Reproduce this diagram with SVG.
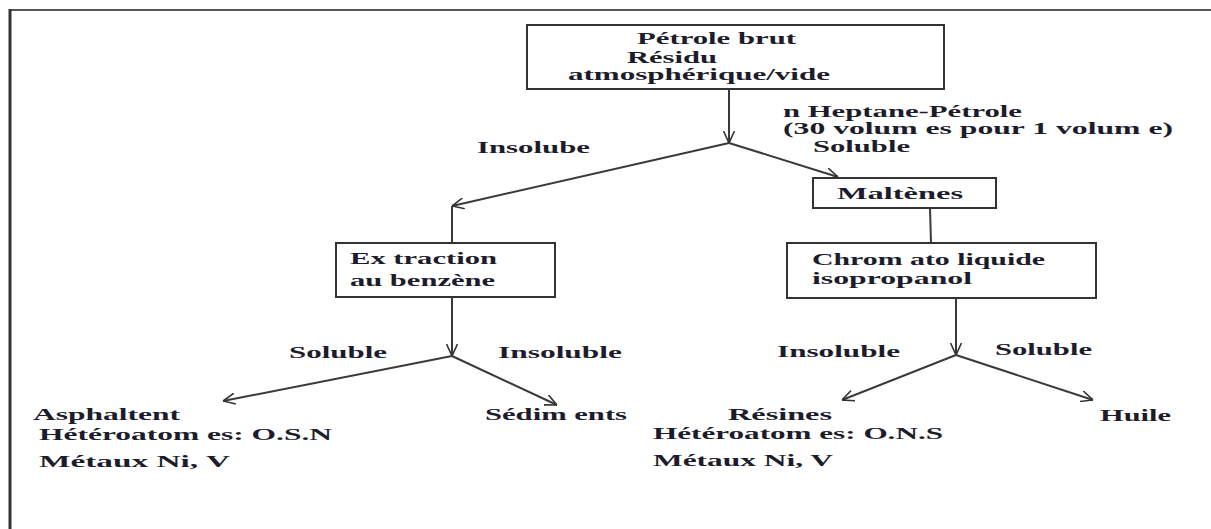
<svg xmlns="http://www.w3.org/2000/svg" width="1211" height="529" viewBox="0 0 1211 529">
<defs>
<marker id="arr" viewBox="0 0 12 12" refX="12" refY="6" markerWidth="12" markerHeight="12" markerUnits="userSpaceOnUse" orient="auto">
<path d="M0,0.5 L12,6 L0,11.5" fill="none" stroke="#333" stroke-width="1.6"/>
</marker>
<style>
.t{font-family:"Liberation Serif","Times New Roman",serif;font-weight:bold;font-size:17px;fill:#1c1c2a}
.b{fill:#fff;stroke:#333;stroke-width:2}
.c{fill:none;stroke:#3a3a3a;stroke-width:2}
.a{marker-end:url(#arr)}
</style>
</defs>
<rect width="1211" height="529" fill="#fff"/>
<g id="frame">
<line x1="10" y1="10" x2="1211" y2="10" stroke="#555" stroke-width="2"/>
<line x1="10" y1="9" x2="10" y2="529" stroke="#333" stroke-width="3"/>
</g>
<g id="connectors">
<line class="c a" x1="729" y1="89" x2="729" y2="143"/>
<line class="c a" x1="729" y1="143" x2="452" y2="206"/>
<line class="c a" x1="729" y1="143" x2="838" y2="177"/>
<line class="c" x1="452" y1="206" x2="452" y2="243"/>
<line class="c" x1="930" y1="208" x2="931" y2="243"/>
<line class="c a" x1="452" y1="297" x2="452" y2="356"/>
<line class="c a" x1="452" y1="356" x2="223" y2="401"/>
<line class="c a" x1="452" y1="356" x2="557" y2="405"/>
<line class="c a" x1="956" y1="298" x2="956" y2="355"/>
<line class="c a" x1="956" y1="355" x2="842" y2="400"/>
<line class="c a" x1="956" y1="355" x2="1093" y2="400"/>
</g>
<g id="n-petrole">
<rect class="b" x="527" y="25" width="417" height="64"/>
<text class="t" x="637" y="44" textLength="159" lengthAdjust="spacingAndGlyphs">Pétrole brut</text>
<text class="t" x="627" y="63" textLength="90" lengthAdjust="spacingAndGlyphs">Résidu</text>
<text class="t" x="568" y="80" textLength="262" lengthAdjust="spacingAndGlyphs">atmosphérique/vide</text>
</g>
<g id="l-heptane">
<text class="t" x="783" y="117" textLength="239" lengthAdjust="spacingAndGlyphs">n Heptane-Pétrole</text>
<text class="t" x="783" y="134" textLength="390" lengthAdjust="spacingAndGlyphs">(30 volum es pour 1 volum e)</text>
<text class="t" x="813" y="152" textLength="97" lengthAdjust="spacingAndGlyphs">Soluble</text>
</g>
<g id="l-insolube">
<text class="t" x="477" y="153" textLength="113" lengthAdjust="spacingAndGlyphs">Insolube</text>
</g>
<g id="n-maltenes">
<rect class="b" x="813" y="178" width="183" height="30"/>
<text class="t" x="837" y="199" textLength="126" lengthAdjust="spacingAndGlyphs">Maltènes</text>
</g>
<g id="n-extraction">
<rect class="b" x="336" y="243" width="219" height="54"/>
<text class="t" x="350" y="264" textLength="147" lengthAdjust="spacingAndGlyphs">Ex traction</text>
<text class="t" x="350" y="286" textLength="145" lengthAdjust="spacingAndGlyphs">au benzène</text>
</g>
<g id="n-chromato">
<rect class="b" x="787" y="243" width="309" height="55"/>
<text class="t" x="812" y="265" textLength="233" lengthAdjust="spacingAndGlyphs">Chrom ato liquide</text>
<text class="t" x="812" y="284" textLength="160" lengthAdjust="spacingAndGlyphs">isopropanol</text>
</g>
<g id="l-left">
<text class="t" x="289" y="358" textLength="98" lengthAdjust="spacingAndGlyphs">Soluble</text>
<text class="t" x="498" y="358" textLength="124" lengthAdjust="spacingAndGlyphs">Insoluble</text>
</g>
<g id="l-right">
<text class="t" x="777" y="357" textLength="123" lengthAdjust="spacingAndGlyphs">Insoluble</text>
<text class="t" x="995" y="355" textLength="97" lengthAdjust="spacingAndGlyphs">Soluble</text>
</g>
<g id="n-asphaltent">
<text class="t" x="33" y="420" textLength="147" lengthAdjust="spacingAndGlyphs">Asphaltent</text>
<text class="t" x="39" y="440" textLength="293" lengthAdjust="spacingAndGlyphs">Hétéroatom es: O.S.N</text>
<text class="t" x="39" y="467" textLength="191" lengthAdjust="spacingAndGlyphs">Métaux Ni, V</text>
</g>
<g id="n-sediments">
<text class="t" x="485" y="420" textLength="142" lengthAdjust="spacingAndGlyphs">Sédim ents</text>
</g>
<g id="n-resines">
<text class="t" x="728" y="420" textLength="104" lengthAdjust="spacingAndGlyphs">Résines</text>
<text class="t" x="653" y="439" textLength="290" lengthAdjust="spacingAndGlyphs">Hétéroatom es: O.N.S</text>
<text class="t" x="653" y="466" textLength="180" lengthAdjust="spacingAndGlyphs">Métaux Ni, V</text>
</g>
<g id="n-huile">
<text class="t" x="1100" y="421" textLength="71" lengthAdjust="spacingAndGlyphs">Huile</text>
</g>
</svg>
